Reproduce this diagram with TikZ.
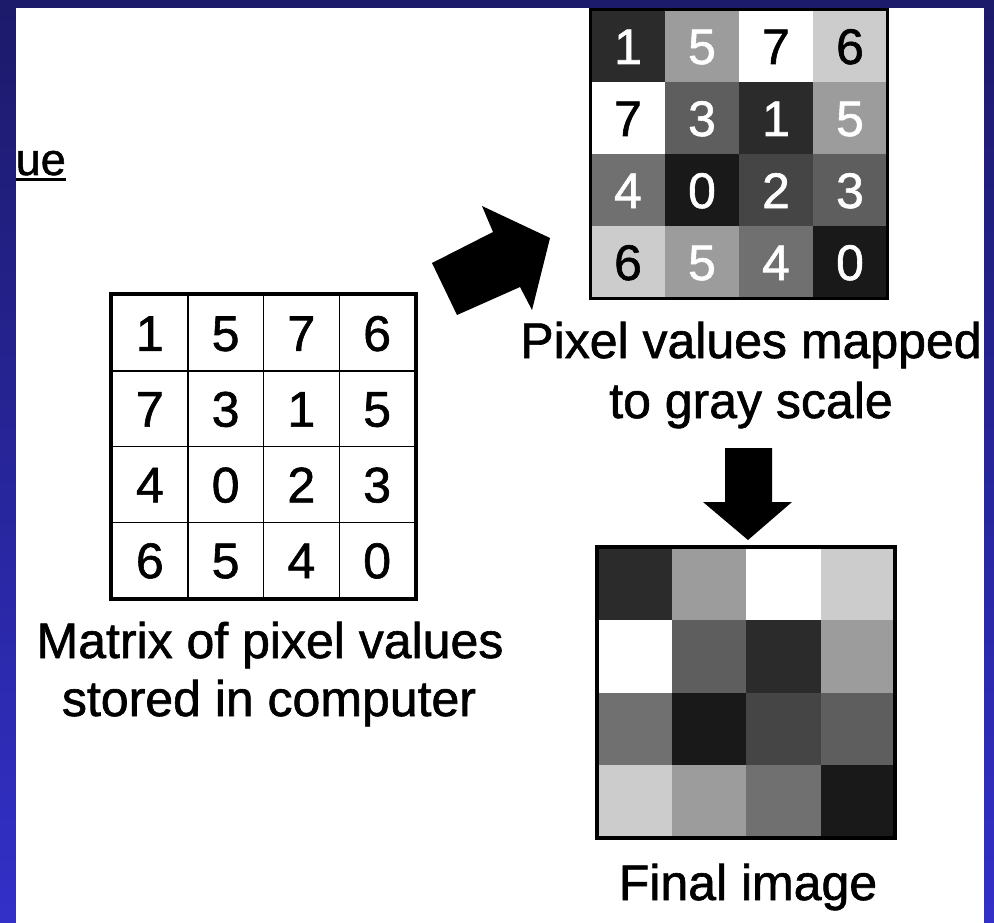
\documentclass[tikz,border=0pt]{standalone}
\usepackage{fontspec}
\setmainfont{Liberation Sans}[FakeBold=1.2]
\usetikzlibrary{positioning}

\definecolor{frametop}{RGB}{28,26,106}
\definecolor{framebot}{RGB}{50,48,200}
% gray level of each pixel value
\colorlet{pix0}{black!90}
\colorlet{pix1}{black!83}
\colorlet{pix2}{black!73}
\colorlet{pix3}{black!63}
\colorlet{pix4}{black!56}
\colorlet{pix5}{black!39}
\colorlet{pix6}{black!20}
\colorlet{pix7}{white}
% digit colour on the gray cells
\colorlet{dig0}{white}
\colorlet{dig1}{white}
\colorlet{dig2}{white}
\colorlet{dig3}{white}
\colorlet{dig4}{white}
\colorlet{dig5}{white}
\colorlet{dig6}{black}
\colorlet{dig7}{black}

\tikzset{
  numcell/.style={draw, line width=1.5pt, minimum size=75.75pt, inner sep=0pt,
    text height=36pt, text depth=0pt, font=\fontsize{50}{60}\selectfont},
  graycell/.style={minimum width=74pt, minimum height=72pt, inner sep=0pt,
    text height=36pt, text depth=0pt, font=\fontsize{50}{60}\selectfont},
  imgcell/.style={minimum width=74.5pt, minimum height=72.75pt, inner sep=0pt},
  caption/.style={anchor=base, inner sep=0pt, font=\fontsize{50}{60}\selectfont},
}

\begin{document}
\begin{tikzpicture}[x=1pt, y=-1pt]
    \useasboundingbox (0,0) rectangle (994,923);
    \shade[top color=frametop, bottom color=framebot] (0,0) rectangle (994,923);
    \fill[white] (16,8) rectangle (984,923);

    % title fragment
    \node[anchor=base east, inner sep=0pt, font=\fontsize{45}{50}\selectfont] (frag) at (66,175) {ue};
    \draw[line width=3pt] ([yshift=-5pt]frag.base west) -- ([yshift=-5pt]frag.base east);

    % matrix of numbers
    \foreach \row [count=\r] in {{1,5,7,6},{7,3,1,5},{4,0,2,3},{6,5,4,0}} {
      \foreach \v [count=\c] in \row {
        \node[numcell] (m-\r-\c) at ({112+75.75*(\c-0.5)},{295+75.75*(\r-0.5)}) {\v};
        \node[graycell, fill=pix\v, text=dig\v] (g-\r-\c) at ({591+74*(\c-0.5)},{10+72*(\r-0.5)}) {\v};
        \node[imgcell, fill=pix\v] (f-\r-\c) at ({597+74.5*(\c-0.5)},{547+72.75*(\r-0.5)}) {};
      }
    }
    \draw[line width=4pt] (m-1-1.north west) rectangle (m-4-4.south east);
    \draw[line width=3pt] (g-1-1.north west) rectangle (g-4-4.south east);
    \draw[line width=4pt] (f-1-1.north west) rectangle (f-4-4.south east);

    % captions
    \node[caption] (capm1) at (270,658) {Matrix of pixel values};
    \node[caption] (capm2) at (269,716) {stored in computer};
    \node[caption] (capg1) at (751,358) {Pixel values mapped};
    \node[caption] (capg2) at (751,418) {to gray scale};
    \node[caption] (capf) at (748,900) {Final image};

    % arrow from matrix to gray scale
    \coordinate (a1) at (432,263);
    \coordinate (a2) at (493,232);
    \coordinate (a3) at (482,206);
    \coordinate (a4) at (550,238);
    \coordinate (a5) at (532,310);
    \coordinate (a6) at (520,287);
    \coordinate (a7) at (457,315);
    \fill (a1)--(a2)--(a3)--(a4)--(a5)--(a6)--(a7)--cycle;

    % arrow down to final image
    \coordinate (b1) at (725,448);
    \coordinate (b2) at (772,448);
    \coordinate (b3) at (772,502);
    \coordinate (b4) at (792,502);
    \coordinate (b5) at (748,540);
    \coordinate (b6) at (703,502);
    \coordinate (b7) at (725,502);
    \fill (b1)--(b2)--(b3)--(b4)--(b5)--(b6)--(b7)--cycle;
\end{tikzpicture}
\end{document}
